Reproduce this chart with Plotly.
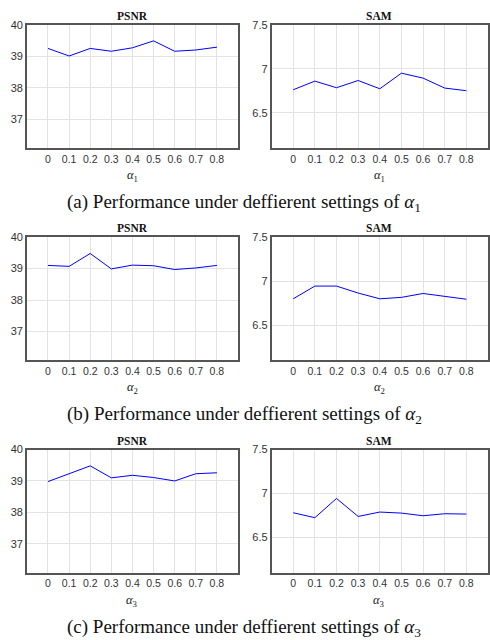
import plotly.graph_objects as go

alphas = [0, 0.1, 0.2, 0.3, 0.4, 0.5, 0.6, 0.7, 0.8]
tick_labels = ["0", "0.1", "0.2", "0.3", "0.4", "0.5", "0.6", "0.7", "0.8"]

psnr_a1 = [39.25, 39.01, 39.25, 39.16, 39.27, 39.49, 39.16, 39.20, 39.29]
sam_a1 = [6.763, 6.861, 6.786, 6.868, 6.774, 6.951, 6.895, 6.782, 6.752]
psnr_a2 = [39.10, 39.07, 39.48, 38.99, 39.11, 39.09, 38.97, 39.02, 39.10]
sam_a2 = [6.80, 6.944, 6.944, 6.865, 6.80, 6.816, 6.86, 6.83, 6.795]
psnr_a3 = [38.98, 39.23, 39.48, 39.10, 39.18, 39.11, 39.00, 39.23, 39.26]
sam_a3 = [6.782, 6.726, 6.944, 6.74, 6.79, 6.778, 6.748, 6.771, 6.767]

panel_titles = ["PSNR", "SAM"]
captions = [
    "(a) Performance under deffierent settings of <i>α</i><sub>1</sub>",
    "(b) Performance under deffierent settings of <i>α</i><sub>2</sub>",
    "(c) Performance under deffierent settings of <i>α</i><sub>3</sub>",
]
x_titles = ["<i>α</i><sub>1</sub>", "<i>α</i><sub>2</sub>", "<i>α</i><sub>3</sub>"]

psnr_ticks = [37, 38, 39, 40]
sam_ticks = [6.5, 7, 7.5]
sam_tick_text = ["6.5", "7", "7.5"]

SERIF = "Liberation Serif, Times New Roman, Times, DejaVu Serif, serif"
SANS = "Liberation Sans, Arial, Helvetica, sans-serif"

H = 640.0
W = 490.0
rows_top = [19, 233.3, 447.7]
row_h = 124.5
col_x = [(27, 239), (272.7, 490)]

series = [[psnr_a1, sam_a1], [psnr_a2, sam_a2], [psnr_a3, sam_a3]]

fig = go.Figure()
annotations = []
idx = 0
for r in range(3):
    top = rows_top[r]
    bot = top + row_h
    ydom = [1 - bot / H, 1 - top / H]
    for c in range(2):
        idx += 1
        xa = "x" if idx == 1 else f"x{idx}"
        ya = "y" if idx == 1 else f"y{idx}"
        fig.add_trace(go.Scatter(
            x=alphas, y=series[r][c], mode="lines",
            line=dict(color="#0000ff", width=1),
            xaxis=xa, yaxis=ya, showlegend=False, hoverinfo="skip"))
        x0, x1 = col_x[c]
        xdom = [x0 / W, min(x1 / W, 1.0)]
        xkey = "xaxis" if idx == 1 else f"xaxis{idx}"
        ykey = "yaxis" if idx == 1 else f"yaxis{idx}"
        fig.update_layout(**{
            xkey: dict(domain=xdom, anchor=ya, range=[-0.1, 0.9],
                       tickmode="array", tickvals=alphas, ticktext=tick_labels,
                       showgrid=True, gridcolor="#e3e3e3", gridwidth=1,
                       zeroline=False, showline=True, linecolor="#555555",
                       linewidth=1.5, mirror=True, ticks="",
                       tickfont=dict(family=SANS, size=10.5, color="#333333")),
            ykey: dict(domain=ydom, anchor=xa,
                       range=[36.08, 40] if c == 0 else [6.1, 7.5],
                       tickmode="array",
                       tickvals=psnr_ticks if c == 0 else sam_ticks,
                       ticktext=[str(v) for v in psnr_ticks] if c == 0 else sam_tick_text,
                       showgrid=True, gridcolor="#e3e3e3", gridwidth=1,
                       zeroline=False, showline=True, linecolor="#555555",
                       linewidth=1.5, mirror=True, ticks="",
                       tickfont=dict(family=SANS, size=11, color="#333333")),
        })
        xc = (x0 + x1) / 2 / W if c == 0 else 381 / W
        annotations.append(dict(
            text=f"<b>{panel_titles[c]}</b>", x=xc,
            y=1 - (top - 9) / H, xref="paper", yref="paper", showarrow=False,
            xanchor="center", yanchor="middle",
            font=dict(family=SERIF, size=11.5, color="#111111")))
        annotations.append(dict(
            text=x_titles[r], x=xc,
            y=1 - (bot + 28) / H, xref="paper", yref="paper", showarrow=False,
            xanchor="center", yanchor="middle",
            font=dict(family=SERIF, size=12.5, color="#222222")))
    annotations.append(dict(
        text=captions[r], x=0.5, y=1 - (top + 180) / H, xref="paper", yref="paper",
        showarrow=False, xanchor="center", yanchor="middle",
        font=dict(family=SERIF, size=19, color="#111111")))

fig.update_layout(
    width=490, height=640, margin=dict(l=0, r=0, t=0, b=0),
    paper_bgcolor="white", plot_bgcolor="white",
    font=dict(family=SANS),
    annotations=annotations,
)

fig.write_html("out.html")
